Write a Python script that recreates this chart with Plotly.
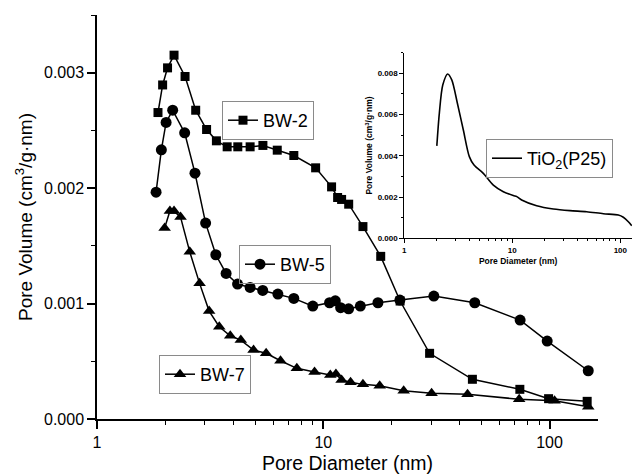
import plotly.graph_objects as go

# ---------------- data ----------------
bw2_x = [1.86, 1.95, 2.05, 2.19, 2.45, 2.73, 3.05, 3.37, 3.76, 4.19, 4.75, 5.41, 6.26, 7.41,
         9.25, 10.88, 11.57, 12.05, 12.95, 14.97, 17.94, 21.85, 29.5, 45.6, 73.9, 99.0, 146.6]
bw2_y = [0.002655, 0.002894, 0.003042, 0.003152, 0.002967, 0.002675, 0.002508, 0.00241, 0.002358,
         0.002358, 0.002358, 0.00237, 0.002329, 0.002283, 0.002176, 0.002011, 0.001919, 0.001902,
         0.001861, 0.001667, 0.001409, 0.001022, 0.000569, 0.000344, 0.000257, 0.000176, 0.000153]

bw5_x = [1.824, 1.925, 2.02, 2.16, 2.44, 2.71, 3.02, 3.35, 3.72, 4.18, 4.75, 5.40, 6.30, 7.41,
         8.99, 10.66, 11.3, 11.93, 12.94, 14.58, 17.44, 21.8, 30.8, 46.7, 74.1, 97.6, 148.2]
bw5_y = [0.001965, 0.002332, 0.002569, 0.002675, 0.002479, 0.00213, 0.001697, 0.001423, 0.001261,
         0.001169, 0.00114, 0.001114, 0.001082, 0.001045, 0.000978, 0.001007, 0.001024, 0.000964,
         0.000955, 0.000978, 0.001007, 0.00103, 0.001065, 0.001007, 0.000857, 0.000675, 0.000418]

bw7_x = [1.99, 2.10, 2.19, 2.34, 2.57, 2.84, 3.13, 3.47, 3.88, 4.32, 4.92, 5.59, 6.47, 7.64,
         9.15, 10.74, 11.37, 12.05, 13.2, 14.97, 17.75, 22.66, 30.1, 43.4, 73.4, 105.2, 148.2]
bw7_y = [0.001654, 0.001801, 0.001801, 0.001749, 0.001448, 0.001175, 0.000935, 0.000799, 0.000721,
         0.000684, 0.000597, 0.000569, 0.000505, 0.000439, 0.000407, 0.000381, 0.00039, 0.000338,
         0.000318, 0.0003, 0.000288, 0.000245, 0.000223, 0.000214, 0.000171, 0.000158, 0.000106]

p25_x = [2.0, 2.11, 2.27, 2.52, 2.75, 3.10, 3.52, 4.0, 4.42, 5.39, 6.67, 8.26, 10.2, 11.0, 12.2,
         16.8, 24.0, 34.2, 48.8, 69.6, 95.8, 106.6, 118.6, 127.6]
p25_y = [0.00448, 0.00606, 0.00743, 0.00797, 0.00768, 0.00655, 0.00525, 0.00396, 0.00355, 0.00315,
         0.00258, 0.00226, 0.00207, 0.00202, 0.00186, 0.00158, 0.00142, 0.00134, 0.00129, 0.00119,
         0.00113, 0.00102, 0.0008, 0.00061]

main_yticks = [0.0, 0.001, 0.002, 0.003]
main_xticks = [1, 10, 100]
inset_yticks = [0.0, 0.002, 0.004, 0.006, 0.008]

FONT = "Liberation Sans, Arial, sans-serif"
minor_log = [m * d for d in (1, 10, 100) for m in range(2, 10)]

fig = go.Figure()

fig.add_trace(go.Scatter(x=bw2_x, y=bw2_y, mode="lines+markers", name="BW-2",
                         line=dict(color="black", width=1.5),
                         marker=dict(symbol="square", size=9, color="black"),
                         legend="legend"))
fig.add_trace(go.Scatter(x=bw5_x, y=bw5_y, mode="lines+markers", name="BW-5",
                         line=dict(color="black", width=1.5),
                         marker=dict(symbol="circle", size=11, color="black"),
                         legend="legend2"))
fig.add_trace(go.Scatter(x=bw7_x, y=bw7_y, mode="lines+markers", name="BW-7",
                         line=dict(color="black", width=1.5),
                         marker=dict(symbol="triangle-up", size=11, color="black"),
                         legend="legend3"))
fig.add_trace(go.Scatter(x=p25_x, y=p25_y, mode="lines", name="TiO<sub>2</sub>(P25)",
                         line=dict(color="black", width=1.6, shape="spline", smoothing=0.8),
                         xaxis="x2", yaxis="y2", legend="legend4"))

L = 97
W = 632
plot_w = W - L

def leg(xpix, ypix):
    return dict(x=(xpix - L) / plot_w, y=(419 - ypix) / 404, xanchor="left", yanchor="top",
                xref="paper", yref="paper", bordercolor="#8a8a8a", borderwidth=1,
                bgcolor="rgba(255,255,255,0)", font=dict(family=FONT, size=18, color="black"),
                itemclick=False, itemdoubleclick=False)

fig.update_layout(
    width=632, height=474,
    margin=dict(l=L, r=0, t=15, b=55, autoexpand=False),
    paper_bgcolor="white", plot_bgcolor="white",
    font=dict(family=FONT, color="black"),
    showlegend=True,
    legend=leg(222, 101),
    legend2=leg(239, 245),
    legend3=leg(159, 355),
    legend4=leg(486, 139),
    xaxis=dict(type="log", range=[0, 2.214], domain=[0, (598 - L) / plot_w],
               showline=True, linecolor="black", linewidth=1.5, mirror=False,
               showgrid=False, zeroline=False, automargin=False,
               ticks="outside", ticklen=8, tickwidth=1.5, tickcolor="black",
               tickmode="array", tickvals=main_xticks, ticktext=[str(v) for v in main_xticks],
               tickfont=dict(size=16, family=FONT),
               minor=dict(tickmode="array", tickvals=minor_log, ticks="outside",
                          ticklen=4, tickwidth=1.2, tickcolor="black", showgrid=False),
               title=dict(text="Pore Diameter (nm)", font=dict(size=19.5, family=FONT), standoff=8),
               anchor="y"),
    yaxis=dict(range=[0, 0.0035], domain=[0, 1],
               showline=True, linecolor="black", linewidth=1.5, mirror=False,
               showgrid=False, zeroline=False, automargin=False,
               ticks="outside", ticklen=8, tickwidth=1.5, tickcolor="black",
               tickmode="array", tickvals=main_yticks, tickformat=".3f",
               tickfont=dict(size=16, family=FONT),
               minor=dict(dtick=0.0005, tick0=0, ticks="outside", ticklen=4,
                          tickwidth=1.2, tickcolor="black", showgrid=False),
               title=dict(text="Pore Volume (cm<sup>3</sup>/g·nm)", font=dict(size=19, family=FONT),
                          standoff=6),
               anchor="x"),
    xaxis2=dict(type="log", range=[0, 2.108], domain=[(404.3 - L) / plot_w, 1],
                showline=True, linecolor="black", linewidth=1, mirror=False,
                showgrid=False, zeroline=False, automargin=False,
                ticks="outside", ticklen=4, tickwidth=1, tickcolor="black",
                tickmode="array", tickvals=main_xticks, ticktext=[str(v) for v in main_xticks],
                tickfont=dict(size=8, family="Liberation Sans, Arial", weight="bold"),
                minor=dict(tickmode="array", tickvals=minor_log, ticks="outside",
                           ticklen=2, tickwidth=1, tickcolor="black", showgrid=False),
                title=dict(text="Pore Diameter (nm)",
                           font=dict(size=8.5, family="Liberation Sans, Arial", weight="bold"),
                           standoff=4),
                anchor="y2"),
    yaxis2=dict(range=[0, 0.009], domain=[(419 - 238.3) / 404, (419 - 52.7) / 404],
                showline=True, linecolor="black", linewidth=1, mirror=False,
                showgrid=False, zeroline=False, automargin=False,
                ticks="outside", ticklen=4, tickwidth=1, tickcolor="black",
                tickmode="array", tickvals=inset_yticks, tickformat=".3f",
                tickfont=dict(size=8, family="Liberation Sans, Arial", weight="bold"),
                minor=dict(dtick=0.001, tick0=0, ticks="outside", ticklen=2,
                           tickwidth=1, tickcolor="black", showgrid=False),
                title=dict(text="Pore Volume (cm<sup>3</sup>/g·nm)",
                           font=dict(size=8.5, family="Liberation Sans, Arial", weight="bold"),
                           standoff=3),
                anchor="x2"),
)

fig.write_html("out.html", config={"displayModeBar": False},
               post_script="document.body.style.margin='0';document.body.style.padding='0';")
